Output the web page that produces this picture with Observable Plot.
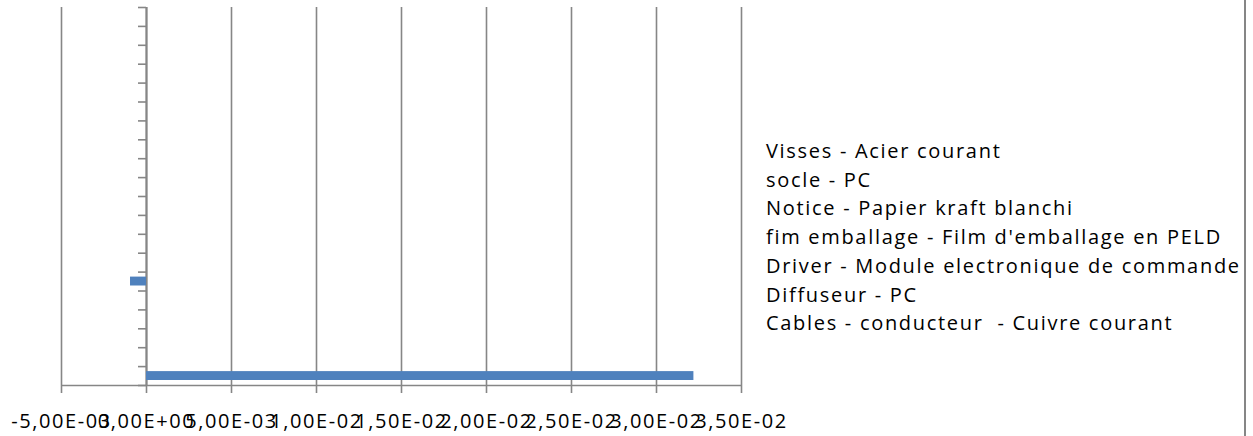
<!DOCTYPE html>
<html>
<head>
<meta charset="utf-8">
<script src="https://cdn.jsdelivr.net/npm/d3@7"></script>
<script src="https://cdn.jsdelivr.net/npm/@observablehq/plot@0.6"></script>
<style>
  html, body { margin: 0; padding: 0; background: #fff; }
  #chart { position: relative; width: 1253px; height: 436px; overflow: hidden; }
  #legend { position: absolute; left: 766px; top: 137px; font-family: "Open Sans", sans-serif; font-size: 20px; letter-spacing: 1.7px; line-height: 28.7px; white-space: pre; color: #000; }
  #border { position: absolute; left: 1244px; top: 0; width: 2px; height: 436px; background: #868686; }
</style>
</head>
<body>
<div id="chart"><div id="legend"></div><div id="border"></div></div>
<script>
// Category positions (1 = bottom category, as in the spreadsheet)
const categories = [1, 2, 3, 4, 5, 6, 7, 8, 9, 10, 11, 12, 13, 14, 15, 16, 17, 18, 19, 20];
// Bar values per category
const values = [0.0322, 0, 0, 0, 0, -0.00094, 0, 0, 0, 0, 0, 0, 0, 0, 0, 0, 0, 0, 0, 0];
// Legend entries (top to bottom)
const legendNames = [
  "Visses - Acier courant",
  "socle - PC",
  "Notice - Papier kraft blanchi",
  "fim emballage - Film d'emballage en PELD",
  "Driver - Module electronique de commande",
  "Diffuseur - PC",
  "Cables - conducteur  - Cuivre courant"
];
// X axis ticks
const xTicks = [-0.005, 0, 0.005, 0.01, 0.015, 0.02, 0.025, 0.03, 0.035];
// Category-axis tick positions (boundaries between categories)
const yTicks = [0, 1, 2, 3, 4, 5, 6, 7, 8, 9, 10, 11, 12, 13, 14, 15, 16, 17, 18, 19, 20];

const data = categories.map((c, i) => ({cat: c, value: values[i]})).filter(d => d.value !== 0);

function sci(v) {
  const [m, e] = v.toExponential(2).split("e");
  const n = +e;
  return m.replace(".", ",") + "E" + (n < 0 ? "-" : "+") + String(Math.abs(n)).padStart(2, "0");
}

const grid = "#868686";
const chart = Plot.plot({
  width: 1253,
  height: 436,
  marginLeft: 61,
  marginRight: 512,
  marginTop: 7,
  marginBottom: 51,
  style: {fontFamily: "'Open Sans', sans-serif", fontSize: "20px", letterSpacing: "1.6px", background: "transparent", color: "#000"},
  x: {domain: [-0.005, 0.035], axis: null},
  y: {domain: [0, 20], axis: null},
  marks: [
    Plot.ruleX(xTicks, {x: d => d, stroke: grid, strokeWidth: 1.6}),
    Plot.ruleX(xTicks, {x: d => d, y1: 0, y2: 0, insetBottom: -8, stroke: grid, strokeWidth: 1.6}),
    Plot.ruleY([0], {stroke: grid, strokeWidth: 1.6}),
    Plot.ruleY(yTicks, {y: d => d, x1: 0, x2: 0, insetLeft: -8, stroke: grid, strokeWidth: 1.6}),
    Plot.ruleX([0], {stroke: grid, strokeWidth: 2}),
    Plot.rectX(data, {x1: 0, x2: "value", y1: d => d.cat - 1, y2: d => d.cat, insetTop: 5, insetBottom: 5, fill: "#4F81BD"}),
    Plot.text(xTicks, {x: d => d, text: sci, frameAnchor: "bottom", lineAnchor: "top", dy: 28, fontSize: 20, fill: "#000"})
  ]
});
document.getElementById("chart").prepend(chart);
document.getElementById("legend").innerHTML = legendNames.map(n => `<div>${n}</div>`).join("");
</script>
</body>
</html>
